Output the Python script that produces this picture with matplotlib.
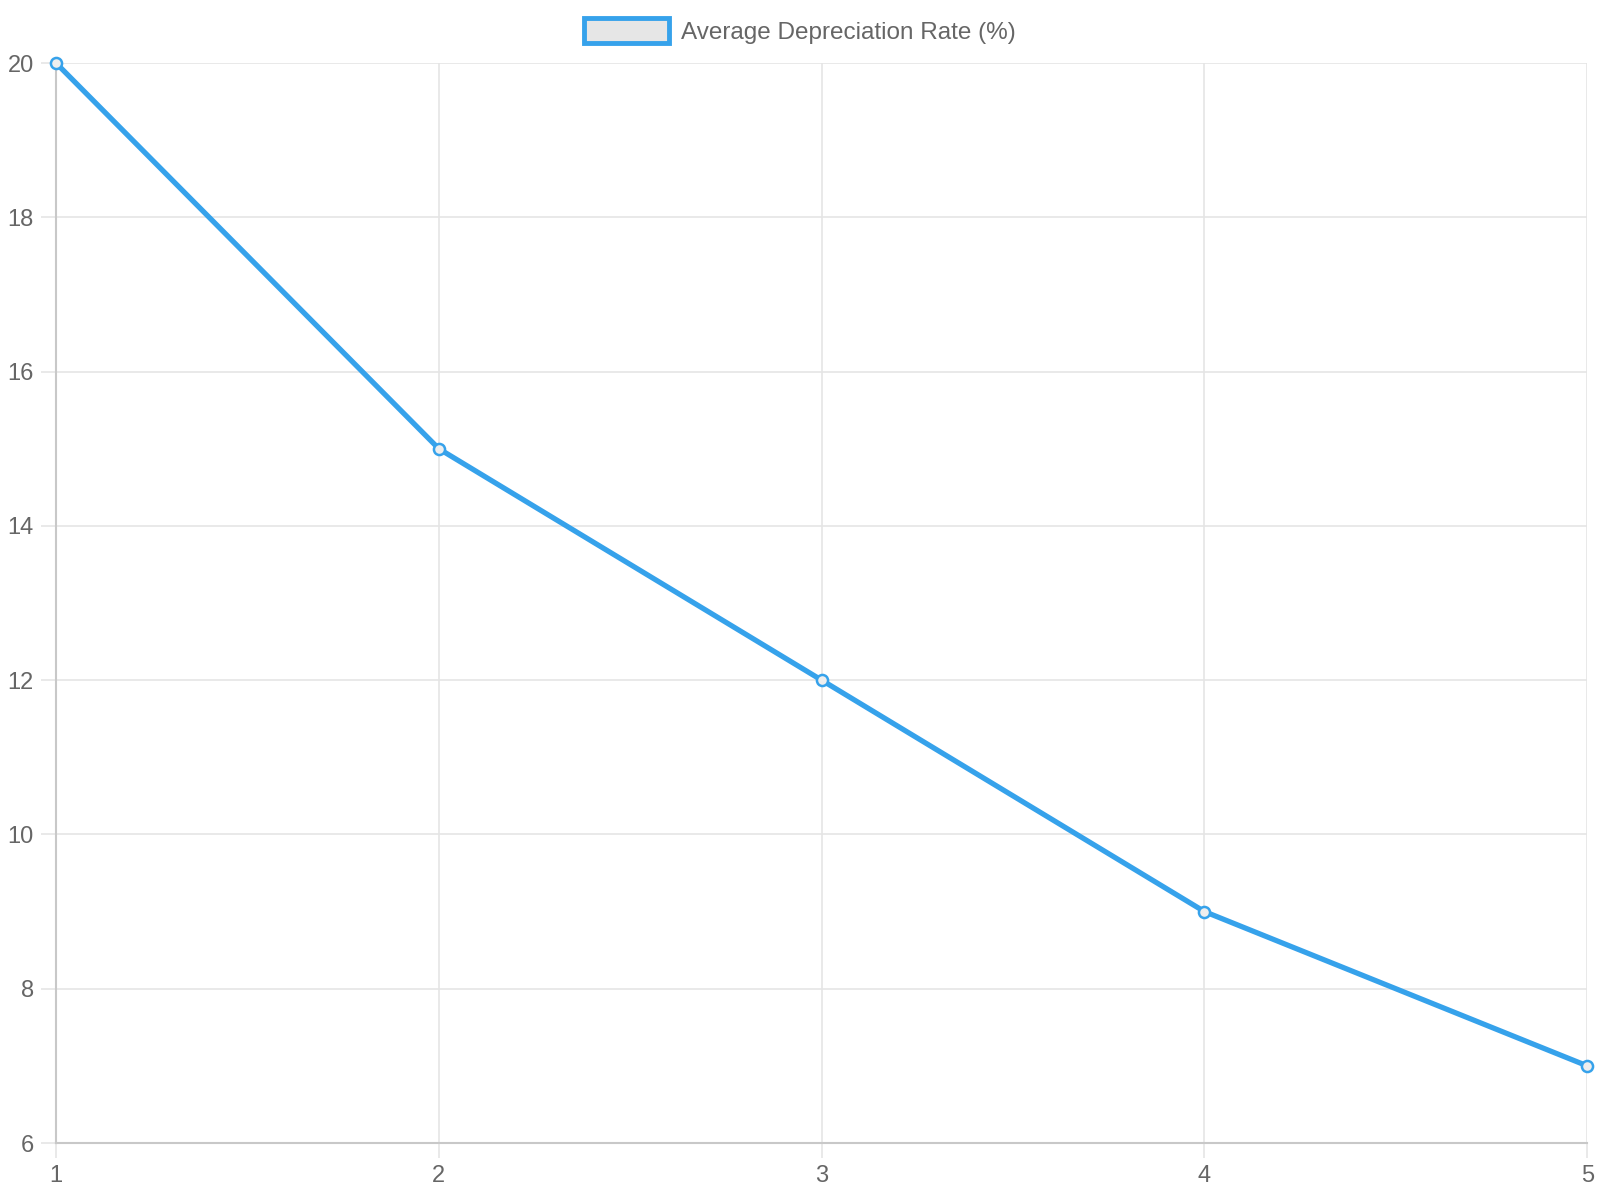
import matplotlib.pyplot as plt
from matplotlib.patches import Patch

years = [1, 2, 3, 4, 5]
rates = [20, 15, 12, 9, 7]
y_ticks = [6, 8, 10, 12, 14, 16, 18, 20]
label = "Average Depreciation Rate (%)"

blue = "#36A2EB"
grid_c = "#e5e5e5"
axis_c = "#c8c8c8"
text_c = "#666666"

plt.rcParams['font.family'] = ['Liberation Sans', 'DejaVu Sans']

fig = plt.figure(figsize=(16, 12), dpi=100)
ax = fig.add_axes([0.035, 0.0475, 0.957, 0.9])

ax.plot(years, rates, color=blue, linewidth=3.8, marker='o', markersize=8,
        markerfacecolor='#eeeeee', markeredgecolor=blue, markeredgewidth=1.8,
        zorder=3, clip_on=False)

ax.set_xlim(1, 5)
ax.set_ylim(6, 20)
ax.set_xticks(years)
ax.set_yticks(y_ticks)
ax.grid(True, color=grid_c, linewidth=1.2)
ax.set_axisbelow(True)

for side in ['top', 'right']:
    ax.spines[side].set_visible(False)
for side in ['left', 'bottom']:
    ax.spines[side].set_color(axis_c)
    ax.spines[side].set_linewidth(1.5)

ax.tick_params(axis='both', colors=grid_c, length=11, width=1.2,
               labelcolor=text_c, labelsize=17)
ax.tick_params(axis='y', pad=5)
ax.tick_params(axis='x', pad=5)

handle = Patch(facecolor='#e6e6e6', edgecolor=blue, linewidth=3.5)
fig.legend([handle], [label], loc='center', bbox_to_anchor=(0.5, 0.974),
           frameon=False, fontsize=17.5, labelcolor=text_c,
           handlelength=3.5, handleheight=1.2, handletextpad=0.5)

fig.savefig("out.png", dpi=100, facecolor='white')
